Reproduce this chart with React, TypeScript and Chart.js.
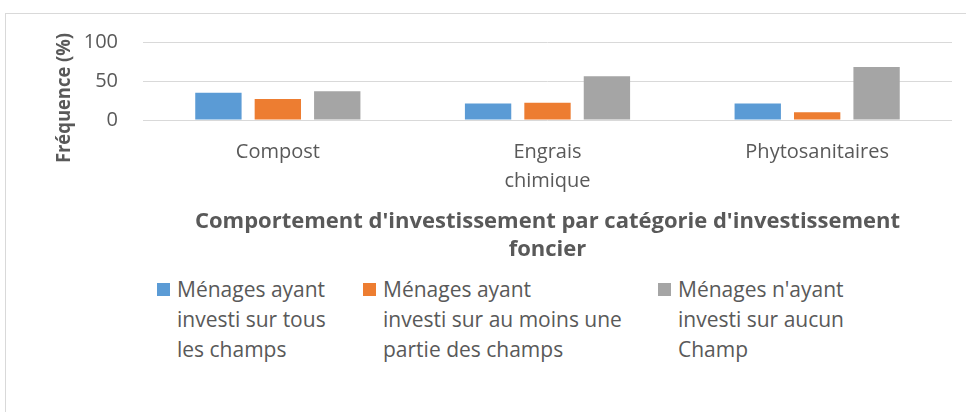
import React, { useEffect, useRef } from "react";
import { Chart, registerables } from "chart.js";

Chart.register(...registerables);

const categories: (string | string[])[] = ["Compost", ["Engrais", "chimique"], "Phytosanitaires"];
const seriesAllFields = [35, 21, 21];
const seriesPartFields = [27, 22, 10];
const seriesNoField = [37, 56, 68];
const seriesNames: string[][] = [
  ["Ménages ayant", "investi sur tous", "les champs"],
  ["Ménages ayant", "investi sur au moins une", "partie des champs"],
  ["Ménages n'ayant", "investi sur aucun", "Champ"],
];
const seriesColors = ["#5B9BD5", "#ED7D31", "#A5A5A5"];
const yTicks = [0, 50, 100];
const yTitle = "Fréquence (%)";
const xTitle = ["Comportement d'investissement par catégorie d'investissement", "foncier"];

const FONT = "'Open Sans', sans-serif";
const TEXT = "#595959";

const yTitlePlugin = {
  id: "yTitlePlugin",
  afterDraw(chart: any) {
    const ctx = chart.ctx;
    ctx.save();
    ctx.translate(64, 98);
    ctx.rotate(-Math.PI / 2);
    ctx.scale(0.92, 1);
    ctx.font = `bold 20px ${FONT}`;
    ctx.fillStyle = TEXT;
    ctx.textAlign = "center";
    ctx.textBaseline = "middle";
    ctx.fillText(yTitle, 0, 0);
    ctx.restore();
  },
};

export default function App() {
  const ref = useRef<HTMLCanvasElement | null>(null);

  useEffect(() => {
    if (!ref.current) return;
    const values = [seriesAllFields, seriesPartFields, seriesNoField];
    const chart = new Chart(ref.current, {
      type: "bar",
      data: {
        labels: categories,
        datasets: values.map((v, i) => ({
          label: seriesNames[i].join(" "),
          data: v,
          backgroundColor: seriesColors[i],
          borderWidth: 0,
          categoryPercentage: 0.661,
          barPercentage: 0.78,
        })),
      },
      options: {
        animation: false,
        responsive: false,
        maintainAspectRatio: false,
        devicePixelRatio: 1,
        layout: { padding: { left: 0, right: 14, top: 42, bottom: 0 } },
        plugins: {
          legend: { display: false },
          tooltip: { enabled: false },
          title: { display: false },
        },
        scales: {
          x: {
            grid: { display: false, drawTicks: false },
            border: { display: false },
            ticks: {
              color: TEXT,
              font: { family: FONT, size: 20, lineHeight: 1.45 },
              padding: 18,
              maxRotation: 0,
              autoSkip: false,
            },
            title: {
              display: true,
              text: xTitle,
              color: TEXT,
              font: { family: FONT, size: 22, weight: "bold", lineHeight: 1.273 },
              padding: { top: 0, bottom: 6 },
            },
            afterFit: (s: any) => {
              s.height = 150;
            },
          },
          y: {
            min: 0,
            max: 100,
            grid: { color: "#D9D9D9", lineWidth: 1, drawTicks: false },
            border: { display: false },
            afterBuildTicks: (s: any) => {
              s.ticks = yTicks.map((v) => ({ value: v }));
            },
            ticks: {
              color: TEXT,
              font: { family: FONT, size: 20 },
              padding: 25,
            },
            afterFit: (s: any) => {
              s.width = 143;
            },
          },
        },
      },
      plugins: [yTitlePlugin],
    });
    return () => chart.destroy();
  }, []);

  const itemWidths = [206, 295, 260];

  return (
    <div
      style={{
        position: "fixed",
        left: 0,
        top: 0,
        width: 966,
        height: 412,
        overflow: "hidden",
        background: "#fff",
        fontFamily: FONT,
      }}
    >
      <div
        style={{
          position: "absolute",
          left: 5,
          top: 13,
          width: 1000,
          height: 500,
          border: "1px solid #D9D9D9",
        }}
      />
      <canvas
        ref={ref}
        width={966}
        height={270}
        style={{ position: "absolute", left: 0, top: 0, width: 966, height: 270 }}
      />
      <div
        style={{
          position: "absolute",
          left: 157,
          top: 274,
          display: "flex",
          flexDirection: "row",
        }}
      >
        {seriesNames.map((lines, i) => (
          <div key={i} style={{ width: itemWidths[i], display: "flex", flexDirection: "row" }}>
            <div
              style={{
                width: 13,
                height: 13,
                marginTop: 9,
                marginRight: 7,
                background: seriesColors[i],
                flex: "none",
              }}
            />
            <div style={{ fontSize: 21, lineHeight: "30px", color: TEXT, whiteSpace: "nowrap" }}>
              {lines.map((l, j) => (
                <div key={j}>{l}</div>
              ))}
            </div>
          </div>
        ))}
      </div>
    </div>
  );
}
